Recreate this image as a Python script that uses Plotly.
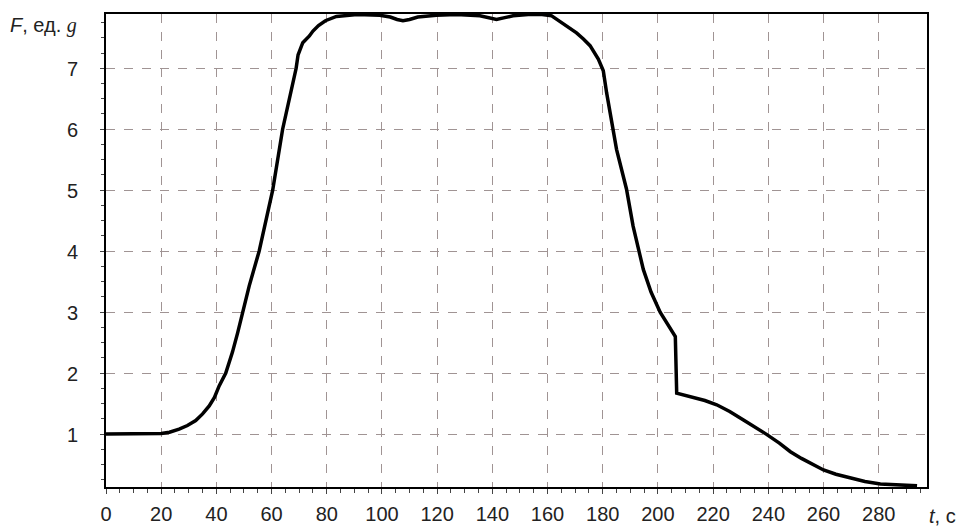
import plotly.graph_objects as go

t_values = [0, 10, 16, 20, 23, 26.5, 29.5, 32.5, 35, 37.4, 39.3, 41, 43.4, 45.8, 47.7, 49.5, 51.9, 55.5, 58.5,
            60.4, 64, 66.4, 68.9, 69.6, 71.3, 73.7, 75, 77, 79.5, 83.5, 87, 91, 99.2, 103, 105.5, 107.6, 110,
            113, 119.7, 127, 135.5, 138.5, 141.5, 144.5, 147.5, 153, 158, 161.5, 164.5, 167.5, 170.5, 173,
            175.4, 178.4, 180.2, 181.4, 182.6, 183.8, 185, 188.6, 191, 194.7, 197.5, 200.8, 203.5, 206.3,
            206.8, 213, 217, 221.3, 226, 231, 235.5, 239.5, 244, 248, 252, 256, 260, 264.5, 269.7, 275,
            280.6, 287, 293.9]
F_values = [1.0, 1.0, 1.0, 1.01, 1.03, 1.08, 1.14, 1.22, 1.33, 1.46, 1.6, 1.79, 2.0, 2.34, 2.66, 3.0, 3.43, 4.0,
            4.63, 5.0, 6.0, 6.49, 7.0, 7.22, 7.42, 7.53, 7.61, 7.7, 7.78, 7.85, 7.87, 7.88, 7.87, 7.84, 7.8,
            7.78, 7.8, 7.84, 7.87, 7.88, 7.86, 7.83, 7.8, 7.83, 7.86, 7.88, 7.88, 7.86, 7.77, 7.68, 7.58,
            7.48, 7.37, 7.15, 6.96, 6.6, 6.27, 5.95, 5.67, 5.02, 4.41, 3.7, 3.33, 3.0, 2.8, 2.6, 1.67, 1.6,
            1.55, 1.48, 1.37, 1.23, 1.11, 0.99, 0.85, 0.71, 0.6, 0.5, 0.41, 0.34, 0.28, 0.22, 0.18, 0.16,
            0.15]

x_ticks = list(range(0, 281, 20))
y_ticks = [1, 2, 3, 4, 5, 6, 7]

grid_color = "#a09494"
font = "Liberation Sans, Arial, sans-serif"

fig = go.Figure()
fig.add_trace(go.Scatter(x=t_values, y=F_values, mode="lines",
                         line=dict(color="black", width=3.5, shape="linear"),
                         showlegend=False, hoverinfo="skip"))

fig.update_layout(
    width=960, height=526,
    margin=dict(l=106, r=33, t=14, b=39, autoexpand=False),
    paper_bgcolor="white", plot_bgcolor="white",
    font=dict(family=font, size=20, color="#222"),
    xaxis=dict(range=[0, 297.5], tickvals=x_ticks, ticktext=[str(v) for v in x_ticks], automargin=False,
               showgrid=True, gridcolor=grid_color, griddash="dash", gridwidth=1,
               showline=True, linecolor="black", linewidth=2, mirror=True,
               ticks="outside", ticklen=5, tickcolor="#444", zeroline=False, ticklabelstandoff=3,
               minor=dict(dtick=5, tick0=0, ticks="outside", ticklen=4, tickcolor="#444", showgrid=False)),
    yaxis=dict(range=[0.131, 7.89], tickvals=y_ticks, showticklabels=False, automargin=False,
               showgrid=True, gridcolor=grid_color, griddash="dash", gridwidth=1,
               showline=True, linecolor="black", linewidth=2, mirror=True,
               ticks="outside", ticklen=4, tickcolor="#444", zeroline=False,
               minor=dict(dtick=0.25, tick0=0, ticks="outside", ticklen=3, tickcolor="#444", showgrid=False)),
)

# y tick labels placed on the y axis scale
for v in y_ticks:
    fig.add_annotation(xref="paper", x=0, yref="y", y=v, xanchor="right", yanchor="middle",
                       xshift=-26, yshift=-1, text=str(v), showarrow=False,
                       font=dict(family=font, size=20, color="#222"))

fig.add_annotation(xref="paper", yref="paper", x=0, y=1.0, xanchor="right", yanchor="middle",
                   xshift=-27, yshift=-11,
                   text="<i>F</i>, ед. <span style='font-family:Liberation Serif, serif; font-style:italic'>g</span>",
                   showarrow=False, font=dict(family=font, size=20, color="#222"))
fig.add_annotation(xref="paper", yref="paper", x=1.0, y=0, xanchor="right", yanchor="middle",
                   xshift=31, yshift=-29,
                   text="<i>t</i>, с", showarrow=False, font=dict(family=font, size=20, color="#222"))

fig.write_html("out.html", config={"displayModeBar": False})

with open("out.html", "r", encoding="utf-8") as fh:
    html = fh.read()
html = html.replace("<head>", "<head><style>html,body{margin:0;padding:0;overflow:hidden;}</style>", 1)
with open("out.html", "w", encoding="utf-8") as fh:
    fh.write(html)
